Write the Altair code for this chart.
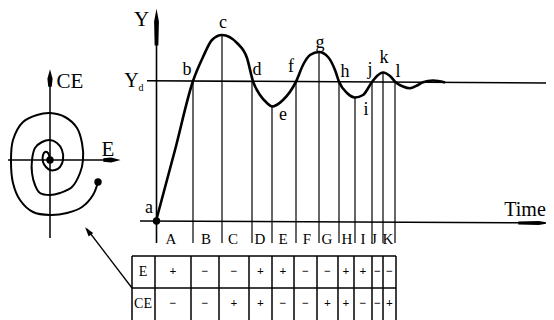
import altair as alt
import pandas as pd

FONT = "Liberation Serif, Times New Roman, DejaVu Serif, serif"

# ---- main response curve (picture units: x to the right, y downward) ----
curve_x = [156, 175, 193, 203, 212, 222, 237, 247, 253, 260, 267, 272, 283, 296, 303, 310,
           319, 328, 335, 339, 347, 355, 363, 372, 377, 383, 390, 396, 403, 410, 417, 423, 433, 445]
curve_y = [221, 150, 81, 57, 40, 35, 43, 58, 81.3, 95, 103, 106.5, 100, 81.6, 65, 55,
           52, 57, 70, 81.8, 93, 97.5, 95, 82, 76, 72.5, 76, 82.5, 86.5, 88.3, 85.5, 82.3, 80.5, 82.4]

# labelled points on the curve
pt_names = ["a", "b", "c", "d", "e", "f", "g", "h", "i", "j", "k", "l"]
pt_lab_x = [149, 187, 223, 257, 283, 291, 320, 345, 366, 370, 384, 398]
pt_lab_y = [208, 70, 23, 70, 115, 67, 43, 72, 110, 70, 58, 72]

# vertical lines from the curve down to the interval row
vl_x = [193, 222, 252, 272, 296, 319, 339, 355, 372, 383, 395]
vl_top = [81, 35, 81, 106, 81, 52, 81, 97, 82, 72, 82]
vl_bottom = 243

# interval names
iv_names = ["A", "B", "C", "D", "E", "F", "G", "H", "I", "J", "K"]
iv_x = [171, 206, 233, 260, 283, 307, 327, 347, 363, 374, 388]
iv_y = 239

# table
tab_cols = [155, 191, 219, 249, 272, 294, 317, 338, 354, 372, 383, 396]
tab_left = 132
tab_rows = [256, 288]
tab_bottom = 320
e_signs = ["+", "−", "−", "+", "+", "−", "−", "+", "+", "−", "−"]
ce_signs = ["−", "−", "+", "+", "−", "−", "+", "+", "−", "−", "+"]

# phase-plane spiral (E, CE), from the outer dot inwards
sp_x = [98, 93, 82, 67, 50, 33, 20, 13, 11, 13, 23, 37, 50, 65, 77, 82, 83, 80, 72, 60, 50,
        40, 35, 32, 32, 35, 42, 50, 57, 62, 63, 60, 55, 50, 46, 43, 43, 45, 48, 50]
sp_y = [182, 195, 207, 213, 215, 212, 200, 183, 160, 140, 122, 115, 113, 117, 128, 143, 160,
        173, 187, 193, 195, 193, 185, 173, 160, 148, 142, 140, 143, 150, 160, 167, 170, 170,
        167, 162, 155, 152, 153, 160]

XS = alt.Scale(domain=[8, 546], nice=False, zero=False)
YS = alt.Scale(domain=[8, 320], nice=False, zero=False, reverse=True)


def X(f):
    return alt.X(f, type="quantitative", scale=XS, axis=None)


def Y(f):
    return alt.Y(f, type="quantitative", scale=YS, axis=None)


def segs(rows, width):
    df = pd.DataFrame(rows, columns=["x1", "y1", "x2", "y2"])
    return alt.Chart(df).mark_rule(color="black", strokeWidth=width).encode(
        x=X("x1"), y=Y("y1"), x2="x2", y2="y2")


layers = []

# axes of the time plot (Y axis, time axis, set-point line Yd)
layers.append(segs([[156.5, 243, 156.5, 30], [140, 221, 530, 222.8], [147, 80.7, 547, 83]], 1.6))
# vertical lines
layers.append(segs([[x, t, x, vl_bottom] for x, t in zip(vl_x, vl_top)], 1.2))
# phase-plane axes
layers.append(segs([[50, 238, 50, 80], [7, 160, 110, 160]], 1.5))
# table lines
tab_lines = [[tab_left, r, tab_cols[-1], r] for r in tab_rows]
tab_lines += [[c, tab_rows[0], c, tab_bottom] for c in [tab_left] + tab_cols]
layers.append(segs(tab_lines, 1.5))
# pointer arrow from table to phase plane
layers.append(segs([[132, 288, 87, 229]], 1.3))

# arrow heads
long_arrow = "M0,-1L0.13,-0.3L0.1,1L-0.1,1L-0.13,-0.3Z"
short_arrow = "M0,-1L0.3,0.1L0.2,1L-0.2,1L-0.3,0.1Z"
small_head = "M0,-1L0.6,1L-0.6,1Z"
heads = [
    (pd.DataFrame({"x": [156.5], "y": [27], "a": [0]}), long_arrow, 1370),
    (pd.DataFrame({"x": [534], "y": [223], "a": [90]}), long_arrow, 1000),
    (pd.DataFrame({"x": [50], "y": [78], "a": [0]}), short_arrow, 300),
    (pd.DataFrame({"x": [112], "y": [160], "a": [90]}), short_arrow, 300),
    (pd.DataFrame({"x": [88], "y": [231], "a": [322]}), small_head, 90),
]
for df, shp, sz in heads:
    layers.append(alt.Chart(df).mark_point(shape=shp, size=sz, filled=True, color="black",
                                            opacity=1, strokeWidth=0).encode(
        x=X("x"), y=Y("y"), angle=alt.Angle("a:Q", scale=None)))

# response curve
cdf = pd.DataFrame({"x": curve_x, "y": curve_y})
layers.append(alt.Chart(cdf).mark_line(color="black", strokeWidth=2.6, interpolate="monotone").encode(
    x=X("x"), y=Y("y")))

# spiral
sdf = pd.DataFrame({"x": sp_x, "y": sp_y, "i": list(range(len(sp_x)))})
layers.append(alt.Chart(sdf).mark_line(color="black", strokeWidth=2.0, interpolate="catmull-rom").encode(
    x=X("x"), y=Y("y"), order=alt.Order("i:Q")))

# dots
ddf = pd.DataFrame({"x": [156.5, 50, 98], "y": [221, 160, 182]})
layers.append(alt.Chart(ddf).mark_circle(size=55, color="black", opacity=1).encode(x=X("x"), y=Y("y")))


# texts
def texts(xs, ys, ts, size, weight="normal"):
    df = pd.DataFrame({"x": xs, "y": ys, "t": ts})
    return alt.Chart(df).mark_text(font=FONT, fontSize=size, color="black", baseline="middle",
                                   align="center", fontWeight=weight).encode(
        x=X("x"), y=Y("y"), text="t:N")


layers.append(texts(pt_lab_x, pt_lab_y, pt_names, 18))
layers.append(texts(iv_x, [iv_y] * len(iv_x), iv_names, 15))
layers.append(texts([141.5, 70, 108], [20, 82, 150], ["Y", "CE", "E"], 21))
layers.append(texts([525], [210], ["Time"], 20))
layers.append(texts([131.5], [80.5], ["Y"], 20))
layers.append(texts([141], [88], ["d"], 10))
layers.append(texts([143, 143], [272, 304], ["E", "CE"], 14))
centers = [(a + b) / 2 for a, b in zip(tab_cols[:-1], tab_cols[1:])]
layers.append(texts(centers, [271] * len(centers), e_signs, 12, "bold"))
layers.append(texts(centers, [303] * len(centers), ce_signs, 12, "bold"))

chart = alt.layer(*layers).properties(
    width=538, height=312, autosize=alt.AutoSizeParams(type="none"), padding=0,
    background="white"
).configure_view(stroke=None)

chart.save("out.html", embed_options={"renderer": "svg", "actions": False})
